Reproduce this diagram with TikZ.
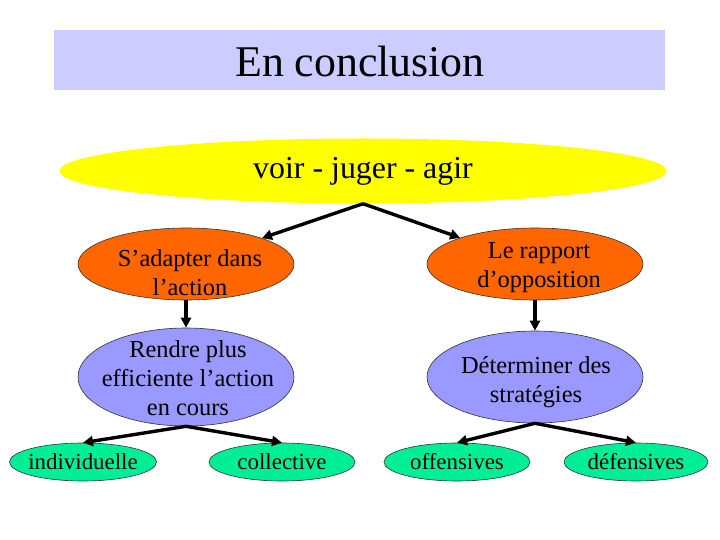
\documentclass[tikz,border=0pt]{standalone}
\usepackage{fontspec}
\setmainfont{Liberation Serif}
\usetikzlibrary{shapes.geometric,arrows.meta}
\definecolor{titlebg}{RGB}{204,204,255}
\definecolor{jaune}{RGB}{255,255,0}
\definecolor{orangeb}{RGB}{255,102,0}
\definecolor{bleub}{RGB}{153,153,255}
\definecolor{vertb}{RGB}{0,238,150}
\begin{document}
\begin{tikzpicture}[x=1bp,y=-1bp,
  bulle/.style={ellipse,draw=black!80,line width=0.6bp,inner sep=0pt},
  txt/.style={align=center,inner sep=0pt,font=\fontsize{24.5}{29}\selectfont},
  petit/.style={inner sep=0pt,font=\fontsize{23}{27}\selectfont},
  fleche/.style={-{Triangle[length=10bp,width=10bp]},line width=3.4bp}]
\useasboundingbox (0,0) rectangle (720,540);
% titre
\fill[titlebg] (54,30) rectangle (665,90);
\node (titre) at (360,62) {\fontsize{44}{50}\selectfont En conclusion};
\node[ellipse,fill=jaune,minimum width=607bp,minimum height=65bp,inner sep=-20bp,
  font=\fontsize{32}{36}\selectfont] (voir) at (363,171) {voir - juger - agir};
% deuxieme niveau
\node[bulle,fill=orangeb,minimum width=216bp,minimum height=72bp,
  label={[txt,xshift=4bp,yshift=-9bp]center:S’adapter dans\\l’action}] (adapt) at (186,264) {};
\node[bulle,fill=orangeb,minimum width=216bp,minimum height=72bp,
  label={[txt,xshift=4bp,yshift=-4bp]center:Le rapport\\d’opposition}] (rapport) at (535,264) {};
\node[bulle,fill=bleub,minimum width=216bp,minimum height=98bp,
  label={[txt,xshift=2bp,yshift=-1bp]center:Rendre plus\\efficiente l’action\\en cours}] (rendre) at (186,377) {};
\node[bulle,fill=bleub,minimum width=216bp,minimum height=92bp,
  label={[txt,xshift=1bp,yshift=-5bp]center:Déterminer des\\stratégies}] (determ) at (535,377) {};
% feuilles
\node[bulle,fill=vertb,minimum width=147bp,minimum height=38bp,
  label={[petit]center:individuelle}] (indiv) at (83,462) {};
\node[bulle,fill=vertb,minimum width=146bp,minimum height=38bp,
  label={[petit]center:collective}] (coll) at (282,462) {};
\node[bulle,fill=vertb,minimum width=146bp,minimum height=38bp,
  label={[petit]center:offensives}] (offen) at (457,462) {};
\node[bulle,fill=vertb,minimum width=144bp,minimum height=38bp,
  label={[petit]center:défensives}] (defen) at (636,462) {};
% fleches
\draw[fleche] (voir.south) -- (adapt);
\draw[fleche] (voir.south) -- (rapport);
\draw[fleche] (adapt) -- (rendre);
\draw[fleche] (rapport) -- (determ);
\draw[fleche] (rendre.south) -- (indiv.north);
\draw[fleche] (rendre.south) -- (coll.north);
\draw[fleche] (determ.south) -- (offen.north);
\draw[fleche] (determ.south) -- (defen.north);
\end{tikzpicture}
\end{document}
